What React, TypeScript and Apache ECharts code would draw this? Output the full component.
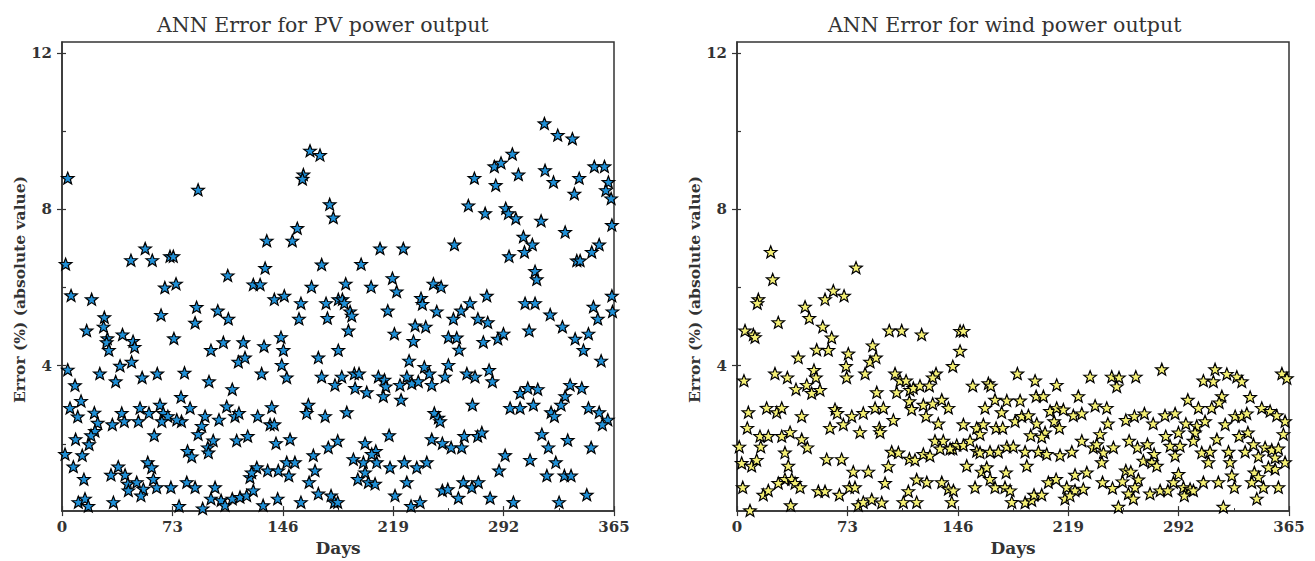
import React, { useEffect, useRef } from "react";
import * as echarts from "echarts";

const titles = ["ANN Error for PV power output", "ANN Error for wind power output"];
const xTickStep = 73;
const yTickValues = [4, 8, 12];
const yInnerTicks = [2, 4, 6, 8, 10, 12];
const yRange = [0.28, 12.28];
const xRange = [0, 365];

// [day, error %]
const pvData: number[][] = [
  [3.8,8.8],[90,8.5],[2.4,6.6],[55,7.0],[45.6,6.7],[59.7,6.7],[71.4,6.8],[73.6,6.8],[6,5.8],[19.6,5.7],[68,6.0],[75.4,6.1],[89,5.5],[88,5.1],[65.5,5.3],[16.3,4.9],[28,5.24],[27.5,5.0],[30,4.7],[29.5,4.6],[31,4.4],[40,4.8],[47,4.63],[48,4.48],[74,4.7],[3.8,3.9],[8.6,3.5],[25,3.8],[38.4,4.0],[46,4.1],[35.5,3.6],[53,3.7],[63,3.8],[81,3.82],[5.3,2.92],[12.6,3.1],[10.4,2.7],[21.4,2.8],[23.6,2.54],[21.8,2.33],[19.2,2.22],[17.9,1.99],[9,2.12],[2,1.74],[7.5,1.42],[13.4,1.71],[14.5,1.1],[10.8,0.51],[15.2,0.6],[17.4,0.41],[34,0.51],[33.3,2.5],[39.5,2.79],[41.2,2.58],[51.6,2.92],[50.5,2.58],[57.5,2.79],[64.8,3.0],[67,2.79],[70,2.71],[66,2.58],[78.7,3.2],[84.7,2.92],[79,2.58],[75.9,2.62],[90,2.25],[61,2.22],[32.4,1.21],[37.2,1.42],[41.7,1.21],[43.5,0.98],[49.4,1.02],[43.9,0.81],[53.8,0.85],[52.2,0.68],[56.7,1.53],[59.3,1.4],[60.4,1.1],[62.6,0.89],[72,0.89],[82.5,1.02],[88,0.89],[83,1.82],[85.8,1.68],[77.4,0.41],
  [164,9.5],[170.6,9.39],[159.6,8.89],[159,8.78],[177,8.13],[179.4,7.79],[155.6,7.52],[152.3,7.2],[135.4,7.2],[134.3,6.5],[109.6,6.31],[126.5,6.08],[131,6.08],[171.7,6.59],[165,6.02],[140.4,5.7],[147,5.79],[158,5.6],[174.6,5.6],[182.7,5.7],[103,5.41],[110,5.2],[156.7,5.2],[175.5,5.22],[98.5,4.4],[106.7,4.6],[119.9,4.6],[133.6,4.5],[116.6,4.1],[121,4.21],[144.8,4.73],[146.4,4.4],[145.3,4.02],[148.6,3.7],[132,3.8],[169.5,4.21],[171.7,3.72],[180.5,3.51],[182.7,4.4],[97.2,3.6],[112.6,3.4],[94.6,2.71],[103.8,2.62],[108.9,2.96],[114.4,2.71],[117,2.79],[92.4,2.46],[100,2.09],[96.4,1.91],[96.8,1.78],[129.4,2.71],[138.7,2.94],[137.6,2.5],[140.4,2.5],[115.5,2.09],[122.8,2.2],[141.5,2.02],[150.8,2.12],[162.9,3.0],[161.8,2.79],[174,2.71],[176.1,1.91],[182.3,2.08],[101.2,0.89],[98.5,0.6],[105.2,0.56],[107.8,0.43],[112.6,0.6],[117.7,0.64],[122.1,0.68],[124.3,1.15],[126.5,0.81],[128.8,1.4],[125.4,1.27],[133,0.43],[136,1.32],[143,1.32],[148.6,1.53],[154,1.53],[150,1.19],[142.6,0.6],[158,0.51],[166.2,1.71],[167.3,1.32],[163.4,1.02],[169.5,0.73],[177.9,0.68],[180.1,0.51],[93,0.35],
  [272.7,8.8],[268.7,8.1],[210.3,7.0],[225.7,7.0],[259.5,7.1],[197.8,6.6],[187.6,6.1],[204.4,6.02],[218.5,6.24],[221.3,5.9],[245.6,6.1],[250.7,6.02],[185.4,5.7],[186.7,5.6],[190.5,5.39],[191.6,5.28],[189.4,4.9],[215.4,5.41],[237.4,5.73],[238.3,5.58],[247.8,5.39],[258.8,5.2],[263.9,5.41],[269.8,5.6],[275,5.2],[219.8,4.82],[233.5,5.03],[240.5,5.0],[232.4,4.63],[255.5,4.73],[261,4.72],[262.6,4.41],[229.5,4.13],[185,3.72],[193.3,3.8],[196.4,3.8],[193.8,3.43],[201.5,3.32],[209.2,3.72],[213.2,3.64],[214.1,3.47],[212.5,3.22],[223.5,3.51],[224.2,3.13],[228,3.72],[231.3,3.55],[235.6,3.6],[239.6,3.97],[242.9,3.8],[244.5,3.51],[255.5,4.02],[253.3,3.72],[267.7,3.8],[273.1,3.72],[271.4,3.0],[188.3,2.81],[246.2,2.79],[248.9,2.67],[250,2.58],[200.4,2.02],[207.5,1.82],[204.8,1.74],[216.3,2.22],[244.5,2.12],[251.5,2.02],[257.3,1.91],[264.3,1.91],[266,2.2],[274.9,2.2],[192.7,1.61],[199.3,1.53],[200.4,1.27],[195.6,1.1],[202.6,1.02],[207,0.98],[208.1,1.53],[216.9,1.4],[226.4,1.53],[234.6,1.4],[241.2,1.53],[228,1.02],[220.2,0.68],[230.8,0.41],[236.8,0.51],[251.5,0.81],[255.1,0.84],[262.1,0.62],[265.4,1.02],[271,0.89],[275.3,1.02],[182.3,0.51],
  [319,10.2],[327.8,9.9],[337.5,9.81],[297.8,9.42],[285.9,9.1],[290.3,9.19],[301.8,8.89],[286.8,8.62],[319.4,9.0],[325,8.7],[342,8.8],[338.8,8.4],[352,9.1],[358.7,9.1],[361.3,8.7],[359.6,8.49],[363.1,8.28],[279.8,7.9],[293.4,8.03],[295.2,7.9],[300.1,7.77],[316.8,7.71],[332.7,7.42],[363.6,7.6],[305.1,7.3],[311,7.1],[305.8,6.91],[295.6,6.8],[355.2,7.1],[350.3,6.91],[340.4,6.69],[342.6,6.69],[312.8,6.42],[313.9,6.21],[280.9,5.79],[306.2,5.6],[312.8,5.6],[322.8,5.31],[330.9,5.0],[363.6,5.79],[364,5.39],[351.4,5.51],[354.3,5.2],[281.5,5.11],[308.9,4.9],[278.6,4.61],[288.2,4.69],[291.9,4.82],[339.3,4.69],[348.1,4.82],[344.8,4.4],[356.5,4.13],[282.4,3.89],[284.6,3.6],[302.9,3.3],[308,3.43],[314.6,3.4],[311.7,3.0],[296.3,2.92],[302.9,2.92],[336,3.51],[343.7,3.43],[332.7,3.22],[330,3.0],[323.4,2.81],[325.6,2.71],[348.1,2.92],[355.2,2.81],[360.9,2.62],[357.3,2.5],[277.6,2.29],[317.3,2.25],[321.6,1.91],[334.4,2.1],[349.9,1.91],[293,1.71],[289,1.32],[309.5,1.59],[326.5,1.53],[320.6,1.19],[332.2,1.19],[336.6,1.19],[283.1,0.62],[298.5,0.51],[328.7,0.51],[347,0.7],
];

// [day, error %]
const windData: number[][] = [
  [22.3,6.91],[78.7,6.51],[23.6,6.21],[14.1,5.7],[13.4,5.6],[63.7,5.92],[70.8,5.79],[58.2,5.7],[45,5.51],[47.8,5.22],[27.3,5.11],[5.3,4.9],[10.8,4.8],[11.9,4.73],[56.7,5.0],[62.6,4.72],[100.7,4.9],[108.9,4.9],[89.7,4.52],[52.7,4.41],[60.4,4.4],[73.6,4.31],[88,4.1],[91.9,4.21],[40.5,4.21],[72.1,3.99],[72.5,3.7],[84.7,3.8],[4.6,3.62],[25.1,3.8],[33.3,3.7],[50.9,3.89],[52.2,3.7],[46.1,3.51],[49.4,3.3],[54.9,3.38],[39,3.4],[104.5,3.8],[107.8,3.62],[111.8,3.62],[92.4,3.32],[105.6,3.32],[114.4,3.38],[114,3.09],[115.5,2.89],[7.5,2.81],[19.6,2.92],[26.3,2.81],[29.6,2.92],[42.8,2.71],[64.8,2.89],[66.3,2.79],[75.9,2.71],[83.5,2.79],[91.3,2.92],[96.8,2.92],[6.8,2.41],[15.2,2.2],[20.7,2.2],[29.6,2.2],[35.1,2.3],[61.5,2.41],[70.3,2.5],[81.3,2.3],[94.1,2.41],[94.6,2.3],[103.4,2.61],[42.8,2.12],[46.5,1.91],[1.5,1.93],[15.7,1.93],[31.7,1.78],[3.1,1.51],[9.7,1.44],[13,1.59],[33.9,1.44],[31.7,1.1],[27.3,1.0],[36.2,1.1],[38.4,1.0],[41.7,0.89],[59.3,1.61],[69.2,1.61],[102.3,1.8],[106.7,1.78],[100.1,1.43],[76.9,1.29],[86.8,1.29],[3.8,0.89],[17.4,0.7],[20.7,0.81],[53.8,0.79],[58.2,0.79],[67.7,0.7],[74.3,0.89],[78,0.89],[97.9,1.0],[113.3,0.79],[8.6,0.3],[35.5,0.43],[80.2,0.43],[83.5,0.51],[89.1,0.58],[95.7,0.5],[110,0.51],[114,1.62],
  [122.1,4.8],[147.5,4.89],[149.7,4.89],[147.5,4.38],[142.7,3.99],[131.6,3.8],[129.4,3.7],[116.6,3.43],[121,3.49],[127.2,3.49],[155.9,3.49],[166.2,3.55],[167.8,3.49],[185.4,3.8],[197.1,3.62],[211.4,3.51],[233.5,3.72],[123.2,3.0],[129.4,3.03],[135.4,3.13],[139.8,2.92],[125,2.71],[133.1,2.52],[164,2.92],[170.6,3.13],[178.4,3.11],[187.2,3.11],[175,2.81],[149.7,2.5],[158.5,2.41],[162.9,2.5],[171.3,2.41],[175.7,2.41],[160.7,2.25],[183.9,2.58],[188.3,2.71],[192.7,2.73],[198.2,2.52],[203.7,2.29],[201.5,2.18],[194.2,2.22],[197.8,3.22],[202.6,3.22],[225.7,3.22],[207,2.84],[211.4,2.92],[215.8,2.88],[222.4,2.73],[228,2.78],[236.8,2.98],[209.7,2.58],[213.2,2.41],[130.9,2.08],[136.4,2.08],[142.7,1.88],[145.3,1.97],[149.7,1.97],[154.1,2.08],[158.5,1.82],[160.7,1.78],[117.7,1.59],[123.2,1.74],[127.6,1.7],[134.3,1.88],[140.9,1.88],[151.9,1.44],[167.3,1.8],[172.8,1.8],[178.4,1.93],[182.7,1.93],[190.5,1.8],[161.8,1.29],[165.1,1.4],[177.9,1.27],[191.6,1.44],[199.3,1.8],[204.8,1.74],[213.6,1.71],[221.4,1.8],[228,2.08],[235.6,1.91],[118.8,1.09],[125.5,1.02],[135.4,1.02],[139.8,0.85],[143.1,0.81],[157.4,0.89],[170.6,0.89],[167.3,1.1],[177.2,0.89],[180.6,0.81],[205.9,1.02],[211,1.1],[223.5,1.21],[231.3,1.27],[218,0.89],[223.5,0.81],[229,0.85],[118.8,0.51],[142,0.51],[181.7,0.51],[190.5,0.5],[194.9,0.56],[196.4,0.7],[201.5,0.7],[216.9,0.6],[220.2,0.68],
  [247.8,3.72],[252.6,3.7],[251.1,3.47],[263.7,3.72],[280.9,3.91],[308.4,3.62],[315,3.6],[316.1,3.91],[323.9,3.79],[330.5,3.72],[333.8,3.6],[360.3,3.8],[363.6,3.68],[244.5,2.92],[245.2,2.52],[240.1,2.25],[237.9,1.99],[248.9,1.91],[242.3,1.78],[241.2,1.53],[257.1,2.61],[262.8,2.71],[269.4,2.78],[275.2,2.52],[283,2.73],[289.7,2.78],[298.1,3.13],[305.1,2.92],[313.9,2.92],[320.6,3.22],[318.8,3.06],[339.3,3.2],[296.8,2.52],[304,2.46],[309.5,2.58],[302.9,2.29],[301.8,2.08],[322.8,2.5],[329.4,2.71],[333.8,2.71],[337.1,2.78],[337.8,2.29],[332,2.2],[347,2.92],[352.5,2.84],[356.9,2.73],[362.4,2.58],[361.3,2.25],[259.3,2.08],[264.8,1.91],[271.4,1.99],[275.8,1.74],[268.7,1.57],[274.3,1.53],[277.6,1.44],[283.5,2.2],[291.9,2.29],[286.4,1.95],[289.7,1.7],[293,1.95],[307.3,1.78],[312.8,1.8],[311.7,1.53],[317.3,2.12],[325,1.8],[326,1.53],[336,1.8],[341.5,1.99],[344.8,1.68],[349.2,1.91],[353.6,1.85],[358,1.88],[362.4,1.53],[355.8,1.65],[355.8,1.36],[351.4,1.4],[342.1,1.27],[344.8,1.15],[340.4,1.02],[348.1,0.89],[358,0.89],[343.7,0.6],[257.1,1.32],[260.4,1.29],[254.9,1.04],[248.3,0.87],[241.7,1.02],[265.4,1.09],[263.2,0.89],[258.8,0.73],[262.1,0.6],[252.2,0.39],[273.1,0.73],[279.8,0.81],[284.9,0.81],[291.9,1.23],[288.6,1.02],[295.2,0.89],[299.6,0.85],[301.8,0.81],[295.8,0.68],[308.4,1.02],[318.3,1.02],[327.2,1.19],[328.9,0.89],[321.6,0.39],
];

const STAR =
  "path://M50,0L62.34,33.01L97.55,34.55L69.97,56.49L79.39,90.45L50,71L20.61,90.45L30.03,56.49L2.45,34.55L37.66,33.01Z";

const FONT = "'DejaVu Serif', 'Liberation Serif', serif";
const INK = "#333333";

export default function App() {
  const ref = useRef<HTMLDivElement>(null);

  useEffect(() => {
    if (!ref.current) return;
    const chart = echarts.init(ref.current, null, { renderer: "svg" });

    const grids = [
      { left: 62, top: 42, width: 552, height: 474 },
      { left: 737, top: 42, width: 552, height: 474 },
    ];

    const xAxes: any[] = [];
    const yAxes: any[] = [];
    const tickLine = { color: INK, width: 1.2 };
    grids.forEach((_, i) => {
      xAxes.push({
        gridIndex: i,
        type: "value",
        min: xRange[0],
        max: xRange[1],
        interval: xTickStep,
        name: "Days",
        nameLocation: "middle",
        nameGap: 24,
        nameTextStyle: { fontFamily: FONT, fontWeight: "bold", fontSize: 17, color: INK },
        axisLine: { show: true, onZero: false, lineStyle: { color: INK, width: 1.5 } },
        axisTick: { show: true, inside: false, length: 5, lineStyle: tickLine },
        axisLabel: { margin: 8, fontFamily: FONT, fontWeight: "bold", fontSize: 15, color: INK },
        splitLine: { show: false },
      });
      xAxes.push({
        gridIndex: i,
        type: "value",
        position: "bottom",
        min: xRange[0],
        max: xRange[1],
        interval: xTickStep,
        axisLine: { show: false, onZero: false },
        axisTick: { show: true, inside: true, length: 5, lineStyle: tickLine },
        minorTick: { show: true, splitNumber: 2, length: 3, lineStyle: { color: INK, width: 1 } },
        axisLabel: { show: false },
        splitLine: { show: false },
      });
      yAxes.push({
        gridIndex: i,
        type: "value",
        min: yRange[0],
        max: yRange[1],
        name: "Error (%) (absolute value)",
        nameLocation: "middle",
        nameGap: 32,
        nameTextStyle: { fontFamily: FONT, fontWeight: "bold", fontSize: 15.5, color: INK, padding: [0, 26, 0, 0] },
        axisLine: { show: true, onZero: false, lineStyle: { color: INK, width: 1.5 } },
        axisTick: { show: true, inside: false, length: 5, customValues: yTickValues, lineStyle: tickLine },
        axisLabel: { margin: 10, customValues: yTickValues, fontFamily: FONT, fontWeight: "bold", fontSize: 15, color: INK },
        splitLine: { show: false },
      });
      yAxes.push({
        gridIndex: i,
        type: "value",
        position: "left",
        min: yRange[0],
        max: yRange[1],
        axisLine: { show: false },
        axisTick: { show: true, inside: true, length: 4, customValues: yInnerTicks, lineStyle: tickLine },
        axisLabel: { show: false },
        splitLine: { show: false },
      });
    });

    const mk = (data: number[][], idx: number, color: string) => ({
      type: "scatter",
      xAxisIndex: idx * 2,
      yAxisIndex: idx * 2,
      data,
      symbol: STAR,
      symbolSize: 12.5,
      symbolKeepAspect: true,
      itemStyle: { color, borderColor: "#000000", borderWidth: 1.2, opacity: 1 },
      clip: false,
    });

    chart.setOption({
      animation: false,
      backgroundColor: "#ffffff",
      title: [
        { text: titles[0], left: 152, top: 9, textStyle: { fontFamily: FONT, fontWeight: "normal", fontSize: 20.5, color: INK } },
        { text: titles[1], left: 823, top: 9, textStyle: { fontFamily: FONT, fontWeight: "normal", fontSize: 20.5, color: INK } },
      ],
      grid: grids.map((g) => ({ ...g, show: true, borderColor: INK, borderWidth: 1.5, backgroundColor: "transparent" })),
      xAxis: xAxes,
      yAxis: yAxes,
      series: [mk(pvData, 0, "#1f8fd6"), mk(windData, 1, "#f4ef74")],
    });

    return () => chart.dispose();
  }, []);

  return (
    <div
      ref={ref}
      style={{ position: "absolute", left: 0, top: 0, width: 1315, height: 561, background: "#fff" }}
    />
  );
}
